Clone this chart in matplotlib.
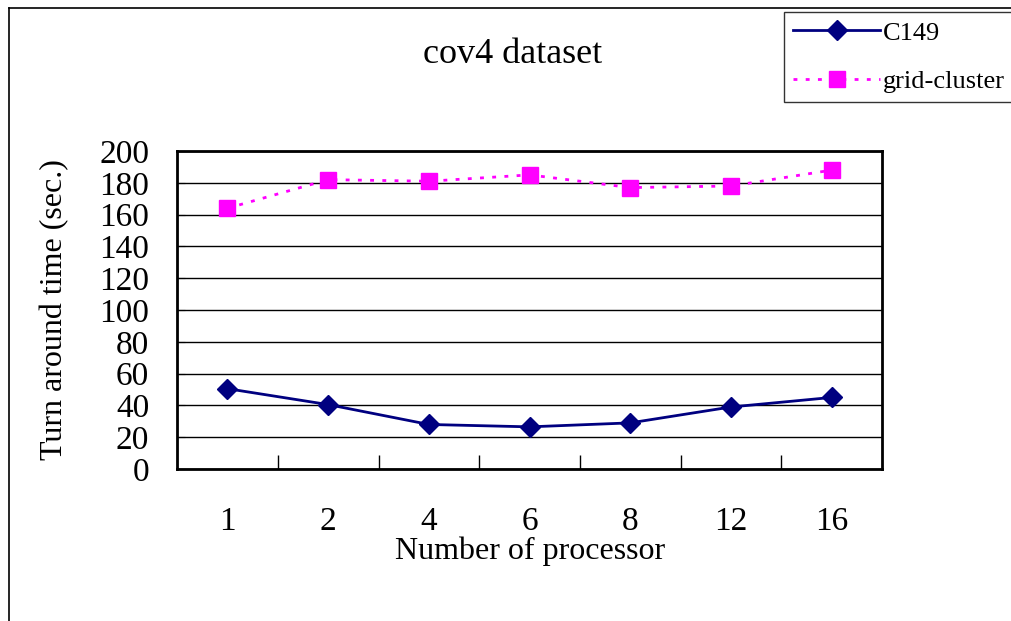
import matplotlib.pyplot as plt
from matplotlib.lines import Line2D

plt.rcParams["font.family"] = ["Liberation Serif", "DejaVu Serif"]

processors = ["1", "2", "4", "6", "8", "12", "16"]
c149 = [50.5, 40.5, 28, 26.5, 29, 39, 45]
grid_cluster = [164, 182, 181, 185, 177, 178, 188]

fig = plt.figure(figsize=(10.12, 6.21), dpi=100)
ax = fig.add_axes([0.175, 0.2448, 0.6966, 0.512])

x = range(1, len(processors) + 1)
ax.plot(x, c149, color="#000080", lw=2, marker="D", markersize=10, label="C149")
ax.plot(x, grid_cluster, color="#FF00FF", lw=2, linestyle=(0, (1.4, 3.0)),
        marker="s", markersize=11, label="grid-cluster")

ax.set_xlim(0.5, len(processors) + 0.5)
ax.set_ylim(0, 200)
ax.set_yticks(range(0, 201, 20))
ax.tick_params(axis="y", direction="in", length=6, labelsize=24, pad=20)
ax.set_xticks(list(x))
ax.set_xticklabels(processors)
ax.set_xticks([i + 0.5 for i in range(1, len(processors))], minor=True)
ax.tick_params(axis="x", which="major", length=0, labelsize=24, pad=27)
ax.tick_params(axis="x", which="minor", direction="in", length=10, width=1)
ax.yaxis.grid(True, color="black", lw=1)
ax.set_axisbelow(True)
for s in ax.spines.values():
    s.set_linewidth(2)

ax.set_xlabel("Number of processor", fontsize=23, labelpad=0)
ax.set_ylabel("Turn around time (sec.)", fontsize=23, labelpad=22)
fig.text(0.507, 0.913, "cov4 dataset", fontsize=26, ha="center", va="center")

# figure frame (left and top edges visible)
fig.add_artist(Line2D([8.5 / 1012, 8.5 / 1012], [0, 1 - 7.5 / 621], color="black", lw=1.2))
fig.add_artist(Line2D([8.5 / 1012, 1], [1 - 7.5 / 621, 1 - 7.5 / 621], color="black", lw=1.2))

leg = fig.legend(loc="upper left", bbox_to_anchor=(784 / 1012, 1 - 12 / 621),
                 fontsize=19, frameon=True, fancybox=False, edgecolor="black",
                 handlelength=3.3, borderpad=0.35, labelspacing=0.95, handletextpad=0.1,
                 borderaxespad=0)
leg.get_frame().set_linewidth(1)

fig.savefig("out.png", dpi=100)
